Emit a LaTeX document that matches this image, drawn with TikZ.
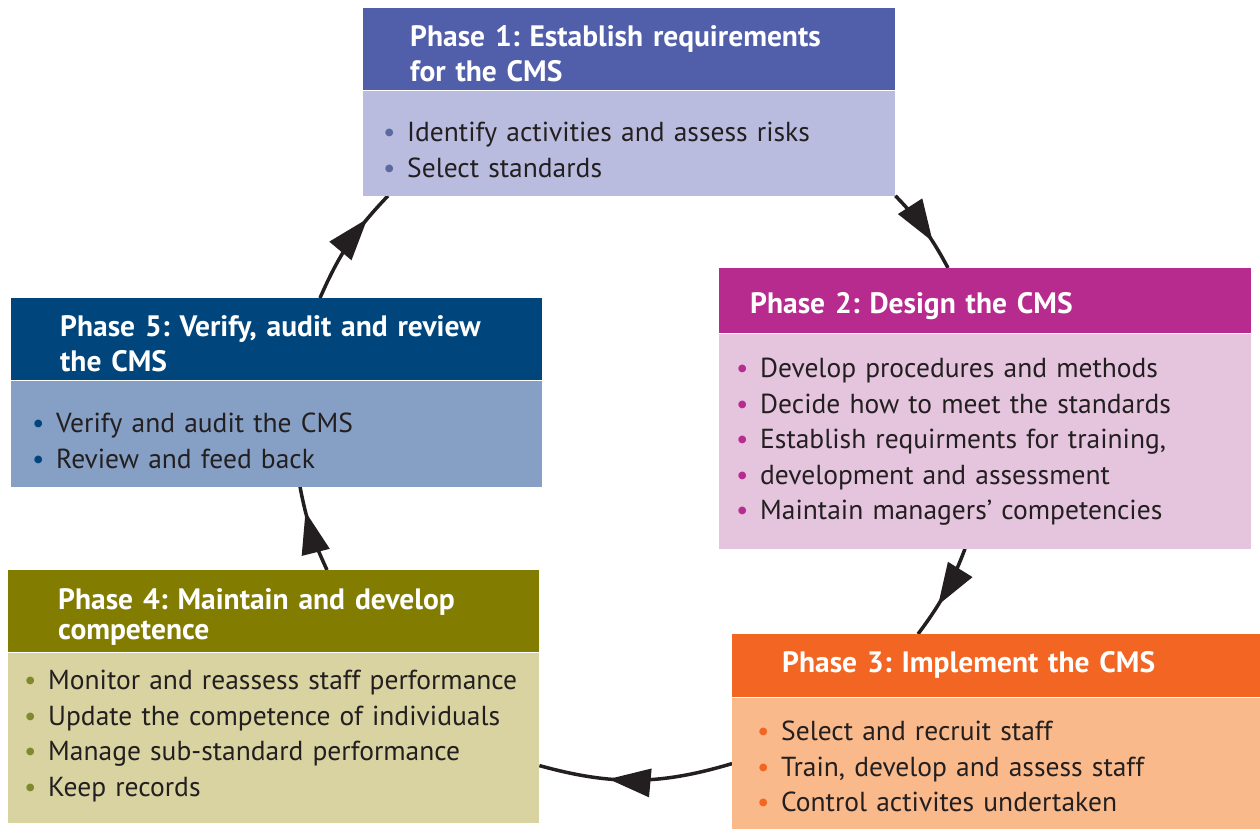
\documentclass[tikz,border=0pt]{standalone}
\usepackage{fontspec}
\setmainfont{PT Sans}
\frenchspacing
\usetikzlibrary{arrows.meta,positioning,calc,decorations.markings}
\pgfdeclarelayer{background}
\pgfsetlayers{background,main}
\definecolor{ink}{HTML}{231F20}
\definecolor{p1dark}{HTML}{515FAB}
\definecolor{p1light}{HTML}{B9BCDF}
\definecolor{p1dot}{HTML}{5A6A9E}
\definecolor{p2dark}{HTML}{B72A8E}
\definecolor{p2light}{HTML}{E5C4DE}
\definecolor{p2dot}{HTML}{B92C8F}
\definecolor{p3dark}{HTML}{F26522}
\definecolor{p3light}{HTML}{F9B98A}
\definecolor{p3dot}{HTML}{F26522}
\definecolor{p4dark}{HTML}{827D00}
\definecolor{p4light}{HTML}{D8D3A0}
\definecolor{p4dot}{HTML}{7F8A2E}
\definecolor{p5dark}{HTML}{00457C}
\definecolor{p5light}{HTML}{859FC5}
\definecolor{p5dot}{HTML}{00457C}
\newcommand{\bul}[1]{\textcolor{#1}{\textbullet}\hspace{0.42em}}
\tikzstyle{head}=[rectangle, anchor=north west, inner ysep=0pt, text=white, align=left, font=\fontsize{29.5}{35}\selectfont\bfseries]
\tikzstyle{body}=[rectangle, inner ysep=0pt, text=ink, align=left, font=\fontsize{27.5}{35.5}\selectfont]
\tikzset{textbox/.style 2 args={text height=#1, text depth=#2}}
\tikzset{flow/.style={draw, line width=3.5pt, ink, postaction={decorate}, decoration={markings, mark=at position #1 with {\arrow{Triangle[length=42pt,width=28pt]}}}}}

\begin{document}
\begin{tikzpicture}[x=1pt,y=-1pt]
    \useasboundingbox (0,0) rectangle (1260,829);
    % First the five phase boxes, header with its list below
    \node[head, fill=p1dark, minimum width=532, minimum height=82, inner xsep=47, text width=438, textbox={38pt}{44pt}] (p1head) at (363,8) {Phase 1: Establish requirements\\for the CMS};
    \node[body, fill=p1light, below=0pt of p1head, minimum width=532, minimum height=105, inner xsep=20, text width=492, textbox={51pt}{54pt}] (p1body) {\bul{p1dot}Identify activities and assess risks\\\bul{p1dot}Select standards};

    \node[head, fill=p2dark, minimum width=532, minimum height=65, inner xsep=31, text width=470, textbox={45pt}{20pt}] (p2head) at (719,268) {Phase 2: Design the CMS};
    \node[body, fill=p2light, below=0pt of p2head, minimum width=532, minimum height=215, inner xsep=17, text width=498, textbox={44pt}{171pt}] (p2body) {\bul{p2dot}Develop procedures and methods\\\bul{p2dot}Decide how to meet the standards\\\bul{p2dot}Establish requirments for training,\\\bul{p2dot}development and assessment\\\bul{p2dot}Maintain managers’ competencies};

    \node[head, fill=p3dark, minimum width=528, minimum height=63, inner xsep=50, text width=428, textbox={38pt}{25pt}] (p3head) at (732,634) {Phase 3: Implement the CMS};
    \node[body, fill=p3light, below=0pt of p3head, minimum width=528, minimum height=132, inner xsep=25, text width=478, textbox={43pt}{89pt}] (p3body) {\bul{p3dot}Select and recruit staff\\\bul{p3dot}Train, develop and assess staff\\\bul{p3dot}Control activites undertaken};

    \node[head, fill=p4dark, minimum width=531, minimum height=82, inner xsep=50, text width=431, textbox={39pt}{43pt}, font=\fontsize{29.5}{30}\selectfont\bfseries] (p4head) at (8,570) {Phase 4: Maintain and develop\\competence};
    \node[body, fill=p4light, below=0pt of p4head, minimum width=531, minimum height=170, inner xsep=16, text width=499, textbox={37pt}{133pt}] (p4body) {\bul{p4dot}Monitor and reassess staff performance\\\bul{p4dot}Update the competence of individuals\\\bul{p4dot}Manage sub-standard performance\\\bul{p4dot}Keep records};

    \node[head, fill=p5dark, minimum width=531, minimum height=82, inner xsep=49, text width=433, textbox={38pt}{44pt}] (p5head) at (11,298) {Phase 5: Verify, audit and review\\the CMS};
    \node[body, fill=p5light, below=0pt of p5head, minimum width=531, minimum height=106, inner xsep=21, text width=489, textbox={52pt}{54pt}] (p5body) {\bul{p5dot}Verify and audit the CMS\\\bul{p5dot}Review and feed back};

    % Ends of the cycle arrows
    \coordinate (s1) at (p1body.south east);
    \coordinate (e1) at ($(p2head.north west)+(229,0)$);
    \coordinate (s2) at ($(p2body.south west)+(246,0)$);
    \coordinate (e2) at ($(p3head.north west)+(186,0)$);
    \coordinate (s3) at (p3body.west);
    \coordinate (e3) at ($(p4body.east)+(0,28)$);
    \coordinate (s4) at ($(p4head.north west)+(319,0)$);
    \coordinate (e4) at ($(p5body.south west)+(289,0)$);
    \coordinate (s5) at ($(p5head.north west)+(309,0)$);
    \coordinate (e5) at ($(p1body.south west)+(25,0)$);

    % Connect the phases round the cycle
    \begin{pgfonlayer}{background}
    \foreach \source/\dest/\bend/\pos in {s1/e1/8/0.66, s2/e2/8/0.64, s3/e3/16/0.64, s4/e4/7/0.71, s5/e5/10/0.75}
        \path[flow=\pos] (\source) to[bend left=\bend] (\dest);
    \end{pgfonlayer}
\end{tikzpicture}
\end{document}
